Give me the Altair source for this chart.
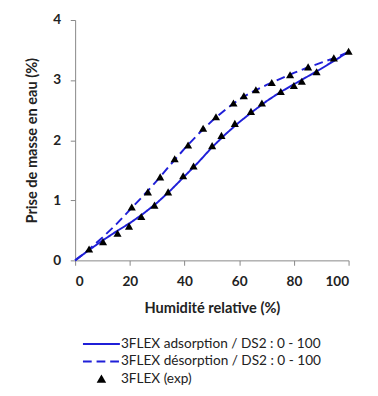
import altair as alt
import pandas as pd

# Experimental points (adsorption branch)
hr_ads = [5.1, 10.2, 15.5, 19.7, 24.2, 29.0, 34.0, 39.5, 43.3, 50.1, 53.5, 58.4, 64.3, 68.3, 75.2, 80.0, 82.9, 88.3, 100.0]
m_ads = [0.19, 0.31, 0.45, 0.57, 0.73, 0.92, 1.14, 1.41, 1.57, 1.91, 2.08, 2.28, 2.48, 2.62, 2.81, 2.91, 2.98, 3.14, 3.48]
# Experimental points (desorption branch)
hr_des = [20.7, 26.6, 31.1, 36.4, 41.3, 46.8, 51.5, 57.9, 61.7, 66.1, 71.9, 78.6, 85.2, 94.6]
m_des = [0.89, 1.14, 1.39, 1.69, 1.92, 2.20, 2.39, 2.62, 2.74, 2.84, 2.96, 3.09, 3.22, 3.37]

# Model curves
hr_model = [0, 5, 10, 15, 20, 25, 30, 35, 40, 45, 50, 55, 60, 65, 70, 75, 80, 85, 90, 95, 100]
ads_model = [0, 0.17, 0.33, 0.48, 0.62, 0.78, 0.96, 1.17, 1.40, 1.63, 1.88, 2.10, 2.30, 2.48, 2.65, 2.80, 2.93, 3.06, 3.19, 3.33, 3.47]
des_model = [0, 0.18, 0.38, 0.60, 0.84, 1.08, 1.33, 1.60, 1.86, 2.10, 2.32, 2.51, 2.68, 2.81, 2.92, 3.02, 3.12, 3.21, 3.29, 3.37, 3.47]

series = ["3FLEX adsorption / DS2 : 0 - 100", "3FLEX désorption / DS2 : 0 - 100", "3FLEX (exp)"]

lines = pd.DataFrame({
    "hr": hr_model + hr_model,
    "m": ads_model + des_model,
    "s": [series[0]] * len(hr_model) + [series[1]] * len(hr_model),
})
pts = pd.DataFrame({
    "hr": hr_ads + hr_des,
    "m": m_ads + m_des,
    "s": [series[2]] * (len(hr_ads) + len(hr_des)),
})

BLUE = "#1f1fd8"
FONT = "Lato"
GRAY = "#868686"
LONG_STROKE = "M-6,0H6"

legend = alt.Legend(
    orient="none", legendX=20, legendY=326, title=None,
    labelFont=FONT, labelFontSize=14, labelColor="#222", labelLimit=0,
    symbolSize=40, symbolStrokeWidth=2, rowPadding=4, labelOffset=13,
)
color = alt.Color("s:N", scale=alt.Scale(domain=series, range=[BLUE, BLUE, "black"]), legend=legend)
shape = alt.Shape("s:N", scale=alt.Scale(domain=series, range=[LONG_STROKE, LONG_STROKE, "triangle-up"]), legend=legend)
dash = alt.StrokeDash("s:N", scale=alt.Scale(domain=series, range=[[1, 0], [9, 5], [1, 0]]), legend=legend)

xenc = alt.X("hr:Q", scale=alt.Scale(domain=[0, 100], nice=False),
             axis=alt.Axis(title="Humidité relative (%)", values=list(range(0, 101, 10)), format="d",
                           labelExpr="datum.value % 20 == 0 ? datum.label : ''", grid=False))
yenc = alt.Y("m:Q", scale=alt.Scale(domain=[0, 4], nice=False),
             axis=alt.Axis(title="Prise de masse en eau (%)", values=[i * 0.5 for i in range(9)], format="d",
                           labelExpr="datum.value % 1 == 0 ? datum.label : ''", grid=False))

line_layer = alt.Chart(lines).mark_line(strokeWidth=2).encode(
    x=xenc, y=yenc, color=color, strokeDash=dash, shape=shape)
pt_layer = alt.Chart(pts).mark_point(filled=True, size=70, opacity=1).encode(
    x="hr:Q", y="m:Q", color=color, shape=shape, strokeDash=dash)

chart = (line_layer + pt_layer).properties(
    width=281, height=247, padding={"left": 16, "top": 0, "right": 5, "bottom": 5}
).configure_view(stroke=None).configure_axis(
    labelFont=FONT, titleFont=FONT, labelFontSize=14, titleFontSize=15, labelFontWeight="bold",
    titleFontWeight="bold", domainColor=GRAY, tickColor=GRAY, tickSize=5, labelColor="#222", titleColor="#222",
    labelPadding=10,
).configure_axisY(titlePadding=14).configure_axisX(titlePadding=13)

chart.save("out.html", embed_options={"renderer": "svg", "actions": False})
